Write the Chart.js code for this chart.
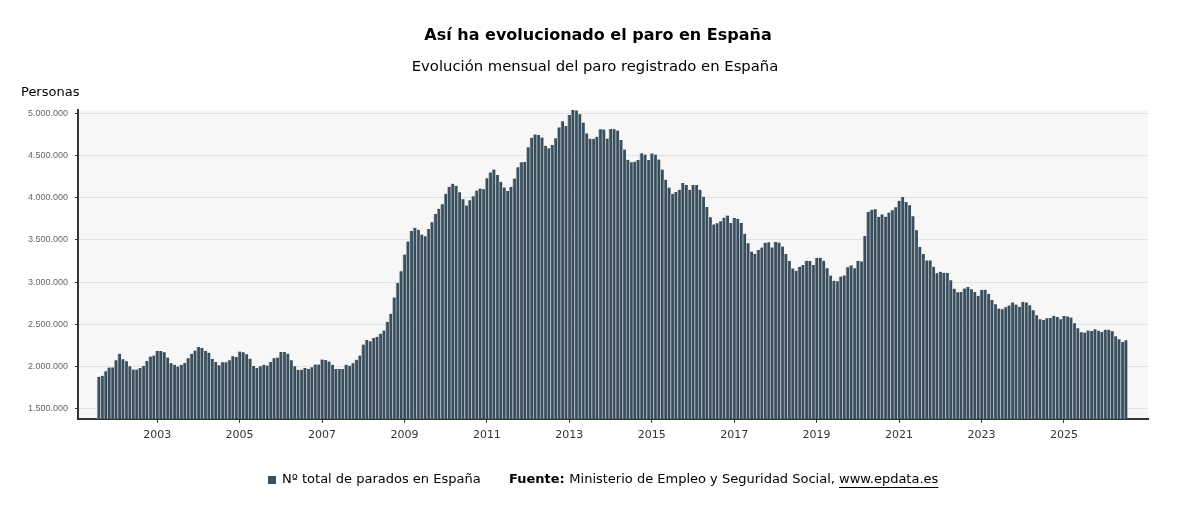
<!DOCTYPE html>
<html lang="es">
<head>
<meta charset="utf-8">
<title>Paro registrado en España</title>
<script src="https://cdn.jsdelivr.net/npm/chart.js@4.4.1/dist/chart.umd.min.js"></script>
<style>
  html, body { margin: 0; padding: 0; background: #fff; }
</style>
</head>
<body>
<canvas id="grafico" width="1200" height="515"></canvas>
<script>
// paro registrado mensual (personas), de agosto de 2001 a julio de 2026
var p2001 = [1878000, 1890000, 1945000, 1988000, 1990000]; // ago-dic
var p2002 = [2075000, 2153000, 2087000, 2063000, 2004000, 1965000, 1965000, 1984000, 2008000, 2067000, 2118000, 2130000];
var p2003 = [2185000, 2185000, 2169000, 2106000, 2039000, 2020000, 2000000, 2020000, 2043000, 2098000, 2153000, 2189000];
var p2004 = [2232000, 2220000, 2185000, 2165000, 2090000, 2055000, 2016000, 2051000, 2051000, 2075000, 2122000, 2114000];
var p2005 = [2177000, 2169000, 2146000, 2094000, 2008000, 1984000, 2004000, 2020000, 2012000, 2055000, 2098000, 2106000];
var p2006 = [2173000, 2173000, 2153000, 2075000, 2004000, 1961000, 1961000, 1984000, 1972000, 1992000, 2024000, 2024000];
var p2007 = [2083000, 2079000, 2059000, 2020000, 1972000, 1972000, 1970000, 2020000, 2010000, 2040000, 2080000, 2130000];
var p2008 = [2261000, 2315000, 2300000, 2338000, 2353000, 2390000, 2426000, 2530000, 2626000, 2819000, 2989000, 3128000];
var p2009 = [3327000, 3482000, 3606000, 3645000, 3620000, 3564000, 3544000, 3630000, 3709000, 3808000, 3869000, 3924000];
var p2010 = [4048000, 4130000, 4167000, 4142000, 4066000, 3982000, 3909000, 3970000, 4018000, 4086000, 4110000, 4100000];
var p2011 = [4231000, 4300000, 4334000, 4270000, 4190000, 4122000, 4080000, 4131000, 4227000, 4361000, 4421000, 4423000];
var p2012 = [4600000, 4712000, 4751000, 4744000, 4714000, 4615000, 4587000, 4626000, 4705000, 4834000, 4908000, 4849000];
var p2013 = [4981000, 5040000, 5035000, 4989000, 4891000, 4763000, 4699000, 4699000, 4724000, 4811000, 4809000, 4701000];
var p2014 = [4814000, 4812000, 4796000, 4684000, 4572000, 4450000, 4420000, 4428000, 4448000, 4527000, 4512000, 4448000];
var p2015 = [4526000, 4512000, 4452000, 4334000, 4215000, 4121000, 4047000, 4068000, 4094000, 4176000, 4150000, 4094000];
var p2016 = [4152000, 4152000, 4094000, 4011000, 3891000, 3768000, 3684000, 3698000, 3721000, 3764000, 3789000, 3702000];
var p2017 = [3760000, 3750000, 3702000, 3573000, 3462000, 3363000, 3336000, 3382000, 3410000, 3467000, 3474000, 3412000];
var p2018 = [3476000, 3470000, 3422000, 3335000, 3252000, 3163000, 3135000, 3182000, 3202000, 3254000, 3252000, 3202000];
var p2019 = [3285000, 3289000, 3255000, 3164000, 3079000, 3016000, 3011000, 3066000, 3080000, 3178000, 3198000, 3164000];
var p2020 = [3254000, 3246000, 3548000, 3832000, 3857000, 3863000, 3774000, 3803000, 3776000, 3826000, 3852000, 3889000];
var p2021 = [3965000, 4009000, 3950000, 3911000, 3782000, 3615000, 3417000, 3334000, 3258000, 3258000, 3183000, 3106000];
var p2022 = [3124000, 3112000, 3108000, 3022000, 2923000, 2881000, 2884000, 2924000, 2942000, 2915000, 2882000, 2838000];
var p2023 = [2908000, 2911000, 2862000, 2789000, 2739000, 2688000, 2678000, 2703000, 2723000, 2760000, 2734000, 2708000];
var p2024 = [2767000, 2760000, 2727000, 2666000, 2607000, 2561000, 2551000, 2573000, 2576000, 2602000, 2587000, 2561000];
var p2025 = [2599000, 2594000, 2580000, 2514000, 2455000, 2406000, 2404000, 2427000, 2422000, 2443000, 2425000, 2410000];
var p2026 = [2437000, 2437000, 2417000, 2358000, 2323000, 2291000, 2311000]; // ene-jul

var anios = [2001, 2002, 2003, 2004, 2005, 2006, 2007, 2008, 2009, 2010, 2011, 2012, 2013,
  2014, 2015, 2016, 2017, 2018, 2019, 2020, 2021, 2022, 2023, 2024, 2025, 2026];
var series = [p2001, p2002, p2003, p2004, p2005, p2006, p2007, p2008, p2009, p2010, p2011, p2012, p2013,
  p2014, p2015, p2016, p2017, p2018, p2019, p2020, p2021, p2022, p2023, p2024, p2025, p2026];

var etiquetasX = ["2003", "2005", "2007", "2009", "2011", "2013", "2015", "2017", "2019", "2021", "2023", "2025"];
var ticksY = [1500000, 2000000, 2500000, 3000000, 3500000, 4000000, 4500000, 5000000];

// cada mes va en año + (mes - 1) / 12
var puntos = [];
for (var a = 0; a < anios.length; a++) {
  var primerMes = anios[a] == 2001 ? 7 : 0;
  for (var m = 0; m < series[a].length; m++) {
    puntos.push({ x: anios[a] + (primerMes + m) / 12, y: series[a][m] });
  }
}

function miles(n) {
  return String(n).replace(/\B(?=(\d{3})+(?!\d))/g, ".");
}

var fondoArea = {
  id: "fondoArea",
  beforeDraw: function (chart) {
    var area = chart.chartArea;
    var ctx = chart.ctx;
    ctx.save();
    ctx.fillStyle = "#f7f7f7";
    ctx.fillRect(area.left, area.top, area.right - area.left, area.bottom - area.top);
    ctx.restore();
  },
};

var textosExtra = {
  id: "textosExtra",
  afterDraw: function (chart) {
    var ctx = chart.ctx;
    var ds = chart.data.datasets[0];
    ctx.save();
    ctx.fillStyle = "#000";

    // titulo y subtitulo
    ctx.textAlign = "center";
    ctx.textBaseline = "alphabetic";
    ctx.font = 'bold 16px "DejaVu Sans"';
    ctx.fillText("Así ha evolucionado el paro en España", 598, 40);
    ctx.font = '14.8px "DejaVu Sans"';
    ctx.fillText("Evolución mensual del paro registrado en España", 595, 71);

    ctx.textAlign = "left";
    ctx.textBaseline = "middle";
    ctx.font = '13px "DejaVu Sans"';
    ctx.fillText("Personas", 21, 93);

    // leyenda
    ctx.fillStyle = ds.backgroundColor;
    ctx.fillRect(268, 476, 8, 8);
    ctx.fillStyle = "#000";
    ctx.fillText(ds.label, 282, 480);

    // fuente
    var x = 509;
    ctx.font = 'bold 13px "DejaVu Sans"';
    ctx.fillText("Fuente:", x, 480);
    x += ctx.measureText("Fuente: ").width;
    ctx.font = '13px "DejaVu Sans"';
    var txt = "Ministerio de Empleo y Seguridad Social, ";
    ctx.fillText(txt, x, 480);
    x += ctx.measureText(txt).width;
    var url = "www.epdata.es";
    ctx.fillText(url, x, 480);
    var w = ctx.measureText(url).width;
    ctx.fillRect(x, 487, w, 1);
    ctx.restore();
  },
};

var ctx = document.getElementById("grafico");
var grafico = new Chart(ctx, {
  type: "bar",
  data: {
    datasets: [
      {
        label: "Nº total de parados en España",
        data: puntos,
        backgroundColor: "#3a4d5a",
        borderColor: "#aab6be",
        borderWidth: { left: 1, right: 0, top: 0, bottom: 0 },
        borderSkipped: false,
        barPercentage: 1,
        categoryPercentage: 1,
      },
    ],
  },
  options: {
    responsive: false,
    animation: false,
    layout: {
      padding: { left: 0, right: 52, top: 110, bottom: 67 },
    },
    plugins: {
      legend: { display: false },
      tooltip: { enabled: false },
    },
    scales: {
      x: {
        type: "linear",
        min: 2001.08,
        max: 2027.04,
        offset: false,
        afterBuildTicks: function (escala) {
          escala.ticks = etiquetasX.map(function (v) {
            return { value: Number(v) };
          });
        },
        border: { color: "#333", width: 2 },
        grid: { offset: false, drawOnChartArea: false, drawTicks: true, tickLength: 4, tickColor: "#333" },
        ticks: {
          autoSkip: false,
          maxRotation: 0,
          padding: 6,
          color: "#333",
          font: { family: "DejaVu Sans", size: 11 },
          callback: function (v) {
            return String(v);
          },
        },
      },
      y: {
        min: 1381000,
        max: 5040000,
        afterBuildTicks: function (escala) {
          escala.ticks = ticksY.map(function (v) {
            return { value: v };
          });
        },
        afterFit: function (escala) {
          escala.width = 78;
        },
        border: { color: "#333", width: 2 },
        grid: { color: "#e3e3e3", tickColor: "#333", tickLength: 3 },
        ticks: {
          padding: 7,
          color: "#666",
          font: { family: "Liberation Sans", size: 9 },
          callback: function (v) {
            return miles(v);
          },
        },
      },
    },
  },
  plugins: [fondoArea, textosExtra],
});
</script>
</body>
</html>
